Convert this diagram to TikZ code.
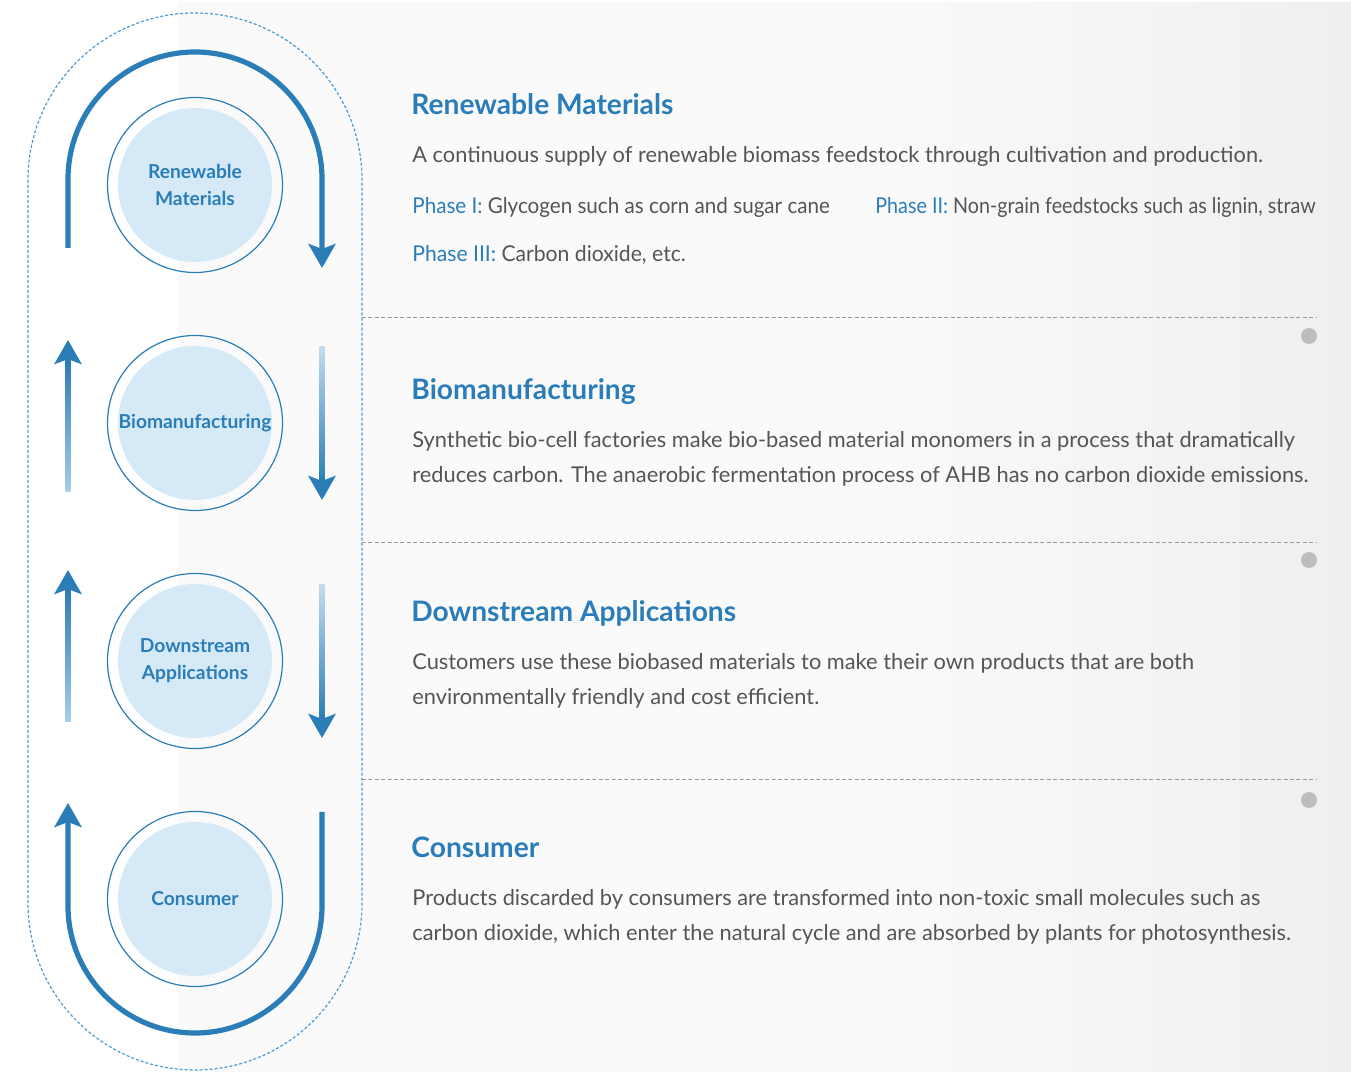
\documentclass[tikz,border=0pt]{standalone}
\usepackage{fontspec}
\usepackage{graphicx}
\setmainfont{Lato}
\usetikzlibrary{arrows.meta}
\definecolor{hblue}{HTML}{2A7DB8}
\definecolor{ablue}{HTML}{2A7DB6}
\definecolor{lblue}{HTML}{A9CDE6}
\definecolor{dblue}{HTML}{4D9CD3}
\definecolor{discfill}{HTML}{D5EAF6}
\definecolor{tgray}{HTML}{555555}
\definecolor{pleft}{HTML}{FAFAFA}
\definecolor{pright}{HTML}{E0E1E3}
\definecolor{sepgray}{HTML}{9A9A9A}
\definecolor{dotgray}{HTML}{BDBDBD}
\pgfdeclarehorizontalshading{panelshade}{100bp}{color(0bp)=(pleft); color(55bp)=(pleft); color(100bp)=(pright)}
\newcommand{\bodyfont}{\fontsize{10.9pt}{12pt}\selectfont}
\newcommand{\headfont}{\fontsize{14.1pt}{15pt}\selectfont\bfseries}
\newcommand{\circfont}{\fontsize{9.6pt}{13.5pt}\selectfont\bfseries}
\begin{document}
\begin{tikzpicture}[x=0.5pt,y=0.5pt,
  ring/.style={circle, draw=ablue, line width=0.6pt, minimum size=87.5pt, inner sep=0pt},
  disc/.style={circle, fill=discfill, minimum size=77pt, inner sep=0pt, text=hblue, font=\circfont, align=center},
  head/.style={anchor=mid west, inner sep=0pt, text=hblue, font=\headfont},
  body/.style={anchor=mid west, inner sep=0pt, text=tgray, font=\bodyfont},
  phase/.style={anchor=mid west, inner sep=0pt, text=tgray, font=\bodyfont},
  bigarrow/.style={draw=ablue, line width=2.6pt, -{Stealth[length=12pt,width=13.5pt,inset=2.5pt]}},
  tiponly/.style={draw=ablue, line width=2.6pt, -{Stealth[length=12pt,width=13.5pt,inset=2.5pt]}},
  capsule/.style={draw=dblue, line width=0.6pt, dash pattern=on 1.5pt off 1pt},
  sep/.style={draw=sepgray, line width=0.5pt, dash pattern=on 2pt off 1.2pt},
  gdot/.style={circle, fill=dotgray, minimum size=8pt, inner sep=0pt}
]
\useasboundingbox (0,0) rectangle (1351,1072);
\fill[white] (0,0) rectangle (1351,1072);
\shade[shading=panelshade] (178,0) rectangle (1351,1069);

% capsule
\draw[capsule] (28,892) -- (28,169) arc[start angle=180,end angle=360,radius=83.5pt] -- (362,892) arc[start angle=0,end angle=180,radius=83.5pt] -- cycle;

% separators and dots
\coordinate (s1a) at (362,754); \coordinate (s1b) at (1317,754);
\coordinate (s2a) at (362,529); \coordinate (s2b) at (1317,529);
\coordinate (s3a) at (362,292); \coordinate (s3b) at (1317,292);
\draw[sep] (s1a) -- (s1b);
\draw[sep] (s2a) -- (s2b);
\draw[sep] (s3a) -- (s3b);
\node[gdot] (d1) at (1309,736) {};
\node[gdot] (d2) at (1309,512) {};
\node[gdot] (d3) at (1309,272) {};

% circles
\node[ring] (r1) at (195,887) {};
\node[disc] (c1) at (r1) {Renewable\\Materials};
\node[ring] (r2) at (195,649) {};
\node[disc] (c2) at (r2) {Biomanufacturing};
\node[ring] (r3) at (195,411) {};
\node[disc] (c3) at (r3) {Downstream\\Applications};
\node[ring] (r4) at (195,173) {};
\node[disc] (c4) at (r4) {Consumer};

% top arc arrow
\coordinate (ta) at (68,824);
\coordinate (tb) at (322,804);
\draw[bigarrow] (ta) -- (68,893) arc[start angle=180,end angle=0,radius=63.5pt] -- (tb);
% bottom arc arrow
\coordinate (ba) at (322,260);
\coordinate (bb) at (68,269);
\draw[bigarrow] (ba) -- (322,166) arc[start angle=0,end angle=-180,radius=63.5pt] -- (bb);

% gradient arrows: biomanufacturing
\shade[top color=ablue, bottom color=lblue] (65.4,580) rectangle (70.6,712);
\coordinate (u1a) at (68,708); \coordinate (u1b) at (68,732);
\draw[tiponly] (u1a) -- (u1b);
\shade[top color=lblue!70, bottom color=ablue] (319.4,725) rectangle (324.6,590);
\coordinate (d1a) at (322,596); \coordinate (d1b) at (322,572);
\draw[tiponly] (d1a) -- (d1b);
% downstream
\shade[top color=ablue, bottom color=lblue] (65.4,350) rectangle (70.6,482);
\coordinate (u2a) at (68,478); \coordinate (u2b) at (68,502);
\draw[tiponly] (u2a) -- (u2b);
\shade[top color=lblue!70, bottom color=ablue] (319.4,487) rectangle (324.6,352);
\coordinate (d2a) at (322,358); \coordinate (d2b) at (322,334);
\draw[tiponly] (d2a) -- (d2b);

% texts
\node[head] (h1) at (411,963) {Renewable Materials};
\node[body] (t1) at (412,915) {A continuous supply of renewable biomass feedstock through cultivation and production.};
\node[phase] (p1) at (412,864) {\scalebox{0.946}[1]{\textcolor{hblue}{Phase I:} Glycogen such as corn and sugar cane}};
\node[phase] (p2) at (875,864) {\scalebox{0.905}[1]{\textcolor{hblue}{Phase II:} Non-grain feedstocks such as lignin, straw}};
\node[phase] (p3) at (412,816) {\scalebox{0.97}[1]{\textcolor{hblue}{Phase III:} Carbon dioxide, etc.}};

\node[head] (h2) at (411,678) {Biomanufacturing};
\node[body] (t2a) at (412,630) {Synthetic bio-cell factories make bio-based material monomers in a process that dramatically};
\node[body] (t2b) at (412,595) {reduces carbon. The anaerobic fermentation process of AHB has no carbon dioxide emissions.};

\node[head] (h3) at (411,456) {Downstream Applications};
\node[body] (t3a) at (412,408) {Customers use these biobased materials to make their own products that are both};
\node[body] (t3b) at (412,373) {environmentally friendly and cost efficient.};

\node[head] (h4) at (411,220) {Consumer};
\node[body] (t4a) at (412,172) {Products discarded by consumers are transformed into non-toxic small molecules such as};
\node[body] (t4b) at (412,137) {carbon dioxide, which enter the natural cycle and are absorbed by plants for photosynthesis.};
\end{tikzpicture}
\end{document}
